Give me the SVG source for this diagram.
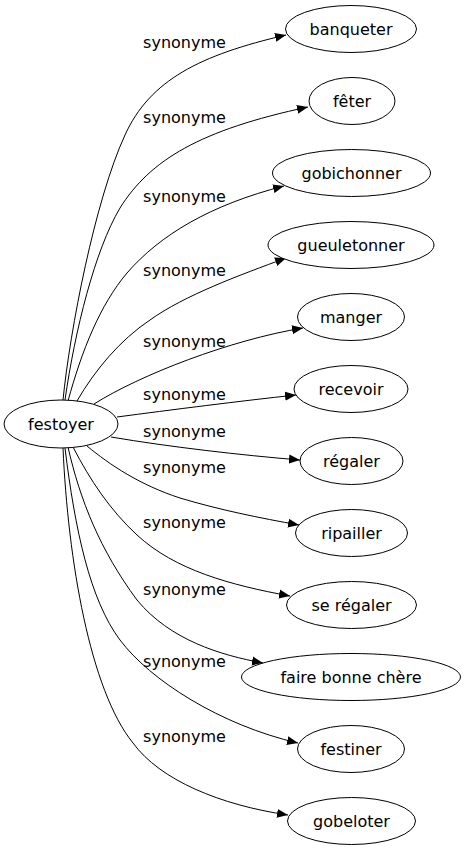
<svg xmlns="http://www.w3.org/2000/svg" width="466" height="851" viewBox="0 0 466 851">
<style>
  .node ellipse { fill: #ffffff; stroke: #000000; stroke-width: 1; }
  .node text { font-family: "DejaVu Sans", sans-serif; font-size: 16px; text-anchor: middle; fill: #000000; }
  .edges path { fill: none; stroke: #000000; stroke-width: 1; marker-end: url(#ah); }
  .edges text { font-family: "DejaVu Sans", sans-serif; font-size: 16px; text-anchor: middle; fill: #000000; }
</style>
<defs>
  <marker id="ah" markerWidth="12" markerHeight="10" refX="11" refY="5" orient="auto" markerUnits="userSpaceOnUse">
    <path d="M0,0.5 L11,5 L0,9.5 z" fill="#000000"/>
  </marker>
</defs>
<rect width="466" height="851" fill="#ffffff"/>
<g id="connectors" class="edges">
  <path d="M63,400 C70,330 95,200 125,135 C150,80 200,55 286,35"/>
  <path d="M65,400 C75,330 95,250 120,208 C150,160 200,130 308,107"/>
  <path d="M68,401 C82,350 100,305 127,273 C160,235 210,205 284,186"/>
  <path d="M77,401 C95,370 120,340 150,320 C185,295 240,275 286,258"/>
  <path d="M94,404 C140,375 230,340 303,328"/>
  <path d="M117,417 C170,410 240,401 296,395"/>
  <path d="M111,437 C170,447 240,455 300,460"/>
  <path d="M87,446 C110,465 140,485 180,498 C220,510 260,518 299,525"/>
  <path d="M73,447 C90,480 110,510 137,535 C175,570 230,585 290,596"/>
  <path d="M68,447 C80,500 100,550 137,600 C170,640 220,655 263,663"/>
  <path d="M65,448 C75,530 90,600 120,640 C150,680 220,725 298,743"/>
  <path d="M63,448 C68,560 90,690 133,743 C160,780 220,805 288,815"/>
  <text x="184.5" y="47.5">synonyme</text>
  <text x="184.5" y="122.5">synonyme</text>
  <text x="184.5" y="201.5">synonyme</text>
  <text x="184.5" y="275.5">synonyme</text>
  <text x="184.5" y="346.5">synonyme</text>
  <text x="184.5" y="400">synonyme</text>
  <text x="184.5" y="436.5">synonyme</text>
  <text x="184.5" y="473">synonyme</text>
  <text x="184.5" y="528">synonyme</text>
  <text x="184.5" y="595">synonyme</text>
  <text x="184.5" y="667">synonyme</text>
  <text x="184.5" y="742">synonyme</text>
</g>
<g id="festoyer" class="node"><ellipse cx="61" cy="424" rx="57" ry="24"/><text x="61" y="430">festoyer</text></g>
<g id="banqueter" class="node"><ellipse cx="351" cy="29" rx="65.5" ry="23.5"/><text x="351" y="34.5">banqueter</text></g>
<g id="feter" class="node"><ellipse cx="352" cy="101" rx="43" ry="23.5"/><text x="352" y="106.5">fêter</text></g>
<g id="gobichonner" class="node"><ellipse cx="351.5" cy="173" rx="79" ry="23.5"/><text x="351.5" y="178.5">gobichonner</text></g>
<g id="gueuletonner" class="node"><ellipse cx="351" cy="245" rx="83" ry="23.5"/><text x="351" y="250.5">gueuletonner</text></g>
<g id="manger" class="node"><ellipse cx="351" cy="317" rx="53.5" ry="23.5"/><text x="351" y="322.5">manger</text></g>
<g id="recevoir" class="node"><ellipse cx="351" cy="389" rx="57" ry="23.5"/><text x="351" y="394.5">recevoir</text></g>
<g id="regaler" class="node"><ellipse cx="351.5" cy="461" rx="51.5" ry="23.5"/><text x="351.5" y="466.5">régaler</text></g>
<g id="ripailler" class="node"><ellipse cx="351.5" cy="533" rx="56" ry="23.5"/><text x="351.5" y="538.5">ripailler</text></g>
<g id="se-regaler" class="node"><ellipse cx="351.5" cy="605" rx="65" ry="23.5"/><text x="351.5" y="610.5">se régaler</text></g>
<g id="faire-bonne-chere" class="node"><ellipse cx="351" cy="677" rx="109.5" ry="23.5"/><text x="351" y="682.5">faire bonne chère</text></g>
<g id="festiner" class="node"><ellipse cx="351" cy="749" rx="53.5" ry="23.5"/><text x="351" y="754.5">festiner</text></g>
<g id="gobeloter" class="node"><ellipse cx="351.5" cy="821" rx="64" ry="23.5"/><text x="351.5" y="826.5">gobeloter</text></g>
</svg>
